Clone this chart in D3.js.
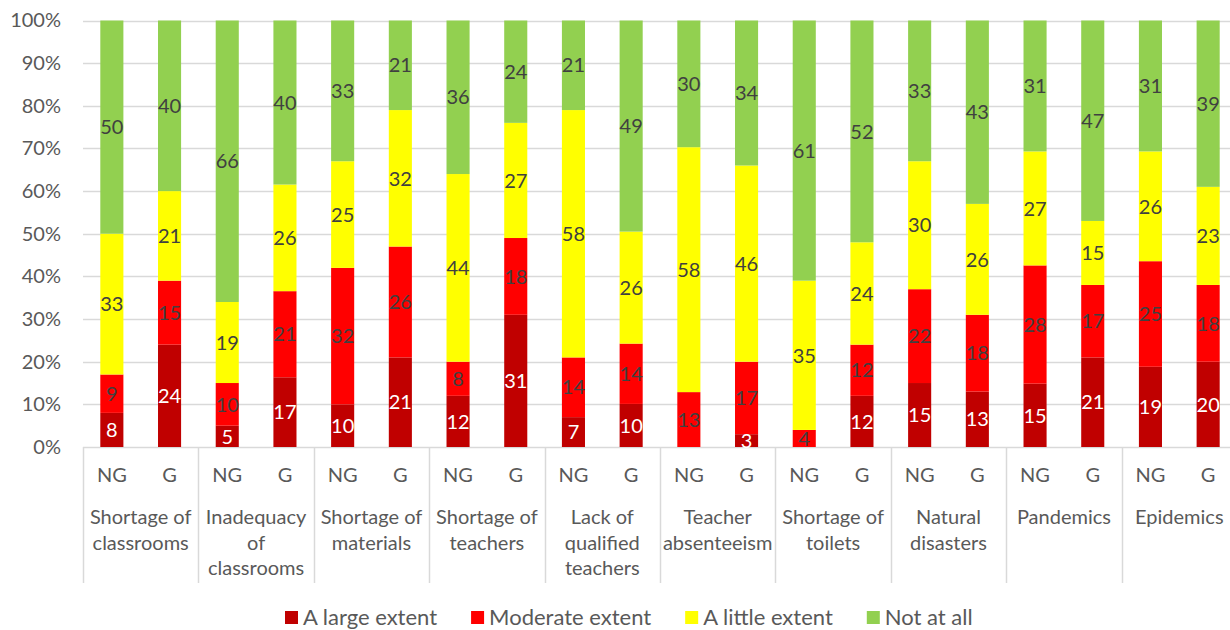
<!DOCTYPE html>
<html>
<head>
<meta charset="utf-8">
<script src="https://cdn.jsdelivr.net/npm/d3@7"></script>
<style>
  html, body { margin: 0; padding: 0; background: #fff; }
  svg { display: block; font-family: Lato, "Open Sans", sans-serif; }
</style>
</head>
<body>
<svg id="chart" width="1230" height="630"></svg>
<script>
// ---- Data ----
const categories = [
  "Shortage of\nclassrooms",
  "Inadequacy\nof\nclassrooms",
  "Shortage of\nmaterials",
  "Shortage of\nteachers",
  "Lack of\nqualified\nteachers",
  "Teacher\nabsenteeism",
  "Shortage of\ntoilets",
  "Natural\ndisasters",
  "Pandemics",
  "Epidemics"
];
const subGroups = ["NG", "G"];
const seriesNames = ["A large extent", "Moderate extent", "A little extent", "Not at all"];
// values per bar, ordered: cat1 NG, cat1 G, cat2 NG, cat2 G, ...
const largeExtent    = [8, 24, 5, 17, 10, 21, 12, 31, 7, 10, 0, 3, 0, 12, 15, 13, 15, 21, 19, 20];
const moderateExtent = [9, 15, 10, 21, 32, 26, 8, 18, 14, 14, 13, 17, 4, 12, 22, 18, 28, 17, 25, 18];
const littleExtent   = [33, 21, 19, 26, 25, 32, 44, 27, 58, 26, 58, 46, 35, 24, 30, 26, 27, 15, 26, 23];
const notAtAll       = [50, 40, 66, 40, 33, 21, 36, 24, 21, 49, 30, 34, 61, 52, 33, 43, 31, 47, 31, 39];
const yTicks = [0, 0.1, 0.2, 0.3, 0.4, 0.5, 0.6, 0.7, 0.8, 0.9, 1.0];

const colors = ["#C00000", "#FF0000", "#FFFF00", "#92D050"];
const labelColors = ["#FFFFFF", "#404040", "#404040", "#404040"];

// ---- Build table ----
const seriesArrays = [largeExtent, moderateExtent, littleExtent, notAtAll];
const rows = [];
categories.forEach((c, ci) => {
  subGroups.forEach((s, si) => {
    const idx = ci * subGroups.length + si;
    const row = { key: ci + "-" + s, cat: c, sub: s };
    seriesNames.forEach((n, k) => { row[n] = seriesArrays[k][idx]; });
    rows.push(row);
  });
});

const stack = d3.stack().keys(seriesNames).offset(d3.stackOffsetExpand);
const stacked = stack(rows);

// ---- Layout ----
const svg = d3.select("#chart");
const mLeft = 83, mRight = 1237, mTop = 20.5, mBottom = 447;
const textColor = "#595959";
const fontSize = 20;

const x = d3.scaleBand().domain(rows.map(r => r.key)).range([mLeft, mRight])
  .paddingInner(0.6).paddingOuter(0.3);
const xGroup = d3.scaleBand().domain(categories).range([mLeft, mRight]);
const y = d3.scaleLinear().domain([0, 1]).range([mBottom, mTop]);

// gridlines
svg.append("g").selectAll("line").data(yTicks).join("line")
  .attr("x1", mLeft).attr("x2", 1230)
  .attr("y1", d => Math.round(y(d)) + 0.5).attr("y2", d => Math.round(y(d)) + 0.5)
  .attr("stroke", "#D9D9D9").attr("stroke-width", 1.5);

// y axis labels
const yAxis = d3.axisLeft(y).tickValues(yTicks).tickFormat(d3.format(".0%")).tickSize(0).tickPadding(22);
const yg = svg.append("g").attr("transform", `translate(${mLeft},0)`).call(yAxis);
yg.select(".domain").remove();
yg.selectAll("text").attr("fill", textColor).style("font-size", fontSize + "px")
  .style("font-family", "Lato, sans-serif");

// bars
const layers = svg.append("g").selectAll("g").data(stacked).join("g")
  .attr("fill", (d, i) => colors[i]);
layers.selectAll("rect").data(d => d).join("rect")
  .attr("x", d => x(d.data.key))
  .attr("width", x.bandwidth())
  .attr("y", d => y(d[1]))
  .attr("height", d => Math.max(0, y(d[0]) - y(d[1])));

// data labels
const lbl = svg.append("g");
stacked.forEach((layer, li) => {
  lbl.append("g").selectAll("text").data(layer.filter(d => d.data[layer.key] > 0)).join("text")
    .attr("x", d => x(d.data.key) + x.bandwidth() / 2)
    .attr("y", d => (y(d[0]) + y(d[1])) / 2)
    .attr("dy", "0.36em")
    .attr("text-anchor", "middle")
    .attr("fill", labelColors[li])
    .style("font-size", fontSize + "px")
    .text(d => d.data[layer.key]);
});

// x axis: separators
const seps = categories.map(c => xGroup(c)).concat([mRight]);
svg.append("g").selectAll("line").data(seps).join("line")
  .attr("x1", d => Math.round(d) + 0.5).attr("x2", d => Math.round(d) + 0.5)
  .attr("y1", mBottom).attr("y2", 583)
  .attr("stroke", "#D9D9D9").attr("stroke-width", 1.5);

// sub labels
svg.append("g").selectAll("text").data(rows).join("text")
  .attr("x", d => x(d.key) + x.bandwidth() / 2)
  .attr("y", 482)
  .attr("text-anchor", "middle")
  .attr("fill", textColor)
  .style("font-size", fontSize + "px")
  .text(d => d.sub);

// category labels
const catG = svg.append("g").selectAll("text").data(categories).join("text")
  .attr("x", d => xGroup(d) + xGroup.bandwidth() / 2)
  .attr("y", 524)
  .attr("text-anchor", "middle")
  .attr("fill", textColor)
  .style("font-size", fontSize + "px");
catG.each(function(d) {
  const t = d3.select(this);
  d.split("\n").forEach((line, i) => {
    t.append("tspan").attr("x", xGroup(d) + xGroup.bandwidth() / 2)
      .attr("dy", i === 0 ? 0 : 25.5).text(line);
  });
});

// legend
const legend = svg.append("g");
let lx = 285;
seriesNames.forEach((n, i) => {
  legend.append("rect").attr("x", lx).attr("y", 611).attr("width", 13).attr("height", 13)
    .attr("fill", colors[i]);
  const t = legend.append("text").attr("x", lx + 18).attr("y", 624.5)
    .attr("fill", textColor).style("font-size", "22px").text(n);
  lx += 18 + t.node().getComputedTextLength() + 34;
});
</script>
</body>
</html>
